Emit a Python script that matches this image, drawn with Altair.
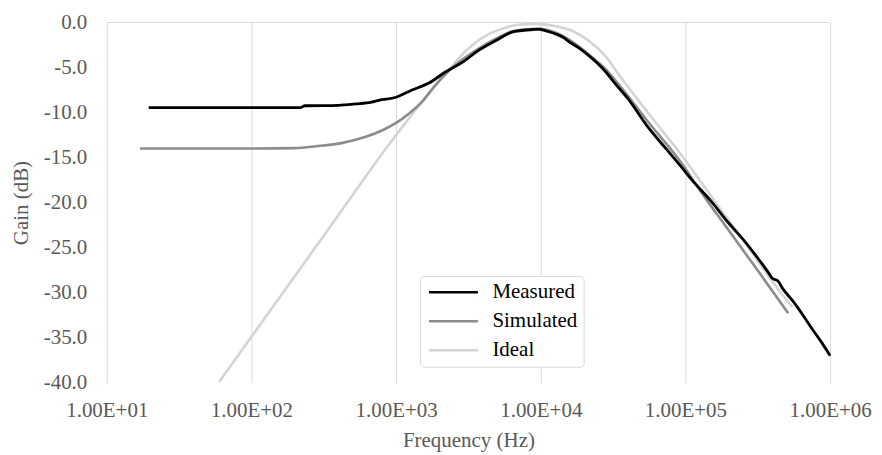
import altair as alt
import pandas as pd

# ---- data (frequency in Hz, gain in dB) ----
meas_f = [19.5, 100, 219, 234, 398, 525, 676, 759, 1000, 1288, 1698, 2188, 2884, 3715,
          4898, 6310, 7413, 8913, 9772, 10715, 12589, 14454, 16218, 18621, 21380,
          24547, 28184, 33113, 39811, 54954, 74131, 97724, 109648, 151356, 199526,
          257040, 331131, 371535, 398107, 436516, 467735, 524807, 575440, 741310,
          870964, 1000000]
meas_db = [-9.45, -9.45, -9.45, -9.25, -9.2, -9.05, -8.85, -8.64, -8.3, -7.5, -6.7,
           -5.5, -4.4, -3.1, -2.0, -1.07, -0.89, -0.78, -0.75, -0.9, -1.25, -1.7, -2.3,
           -2.9, -3.65, -4.5, -5.5, -6.9, -8.4, -11.6, -14.1, -16.4, -17.4, -19.9,
           -22.3, -24.3, -26.6, -27.7, -28.4, -28.7, -29.5, -30.5, -31.3, -33.9,
           -35.5, -37.0]

sim_f = [17, 100, 200, 279, 427, 617, 805, 1000, 1230, 1514, 1778, 2089, 2455, 2884,
         3715, 4898, 6310, 7943, 9333, 11220, 14125, 17783, 22387, 28184, 34674,
         54954, 97724, 123027, 199526, 331131, 512861]
sim_db = [-14.0, -14.0, -13.95, -13.75, -13.37, -12.7, -11.97, -11.15, -10.1, -8.8,
          -7.4, -6.1, -5.0, -4.1, -2.9, -1.8, -1.0, -0.75, -0.7, -0.85, -1.5, -2.5,
          -3.8, -5.2, -6.9, -11.0, -16.0, -18.4, -23.1, -28.0, -32.3]

ideal_f = [60, 100, 238, 327, 1000, 1445, 1905, 2344, 2716, 3311, 4365, 5623, 7000,
           9333, 12000, 16596, 21380, 28184, 34674, 54954, 97724, 158489, 281838,
           436516, 549541]
ideal_db = [-39.9, -34.9, -26.45, -23.35, -12.5, -9.2, -6.8, -5.2, -3.95, -2.6, -1.3,
            -0.6, -0.25, -0.15, -0.35, -0.95, -2.0, -3.8, -5.8, -10.0, -15.1, -19.8,
            -25.3, -29.6, -31.6]

series_names = ["Measured", "Simulated", "Ideal"]
series_colors = ["#000000", "#8c8c8c", "#d4d4d4"]
x_ticks = [10, 100, 1000, 10000, 100000, 1000000]
y_ticks = [0, -5, -10, -15, -20, -25, -30, -35, -40]

rows = []
for name, fs, dbs in [("Measured", meas_f, meas_db),
                      ("Simulated", sim_f, sim_db),
                      ("Ideal", ideal_f, ideal_db)]:
    for f, d in zip(fs, dbs):
        rows.append({"series": name, "freq": f, "gain": d})
df = pd.DataFrame(rows)

FONT = "Liberation Serif"
FS = 21
TXT = "#595959"

xscale = alt.Scale(type="log", domain=[10, 1000000], nice=False)
yscale = alt.Scale(domain=[-40, 0], nice=False, zero=False)
cscale = alt.Scale(domain=series_names, range=series_colors)

x_enc = alt.X("freq:Q", scale=xscale, axis=alt.Axis(
    values=x_ticks, labelExpr="'1.00E+0' + round(log(datum.value) / LN10)",
    grid=True, gridColor="#d9d9d9", gridWidth=1, domain=False, ticks=False,
    labelFlush=False, labelOverlap=False,
    labelFont=FONT, labelFontSize=FS, labelColor=TXT, labelPadding=17,
    title="Frequency (Hz)", titleFont=FONT, titleFontSize=FS, titleColor=TXT,
    titleFontWeight="normal", titlePadding=9))
y_enc = alt.Y("gain:Q", scale=yscale, axis=alt.Axis(
    values=y_ticks, labelExpr="replace(format(datum.value, '.1f'), '\u2212', '-')",
    grid=False, domain=False, ticks=False, labelFlush=False, labelOverlap=False,
    labelFont=FONT, labelFontSize=FS, labelColor=TXT, labelPadding=20,
    title="Gain (dB)", titleFont=FONT, titleFontSize=FS, titleColor=TXT,
    titleFontWeight="normal", titlePadding=12))
c_enc = alt.Color("series:N", scale=cscale, legend=alt.Legend(
    orient="none", legendX=314, legendY=254, title=None,
    symbolType="M0,0H8", symbolSize=150, symbolStrokeWidth=2.5, symbolOffset=-7.5,
    labelFont=FONT, labelFontSize=FS, labelColor="#000000", labelOffset=53,
    rowPadding=7, padding=6, strokeColor="#d9d9d9", fillColor="white",
    cornerRadius=4))

base = alt.Chart(df)
layers = []
for name, sw in [("Ideal", 2.6), ("Simulated", 2.6), ("Measured", 2.8)]:
    layers.append(
        base.transform_filter(alt.datum.series == name)
        .mark_line(strokeWidth=sw, interpolate="monotone")
        .encode(x=x_enc, y=y_enc, color=c_enc)
    )

top_rule = alt.Chart(pd.DataFrame({"gain": [0]})).mark_rule(
    color="#d9d9d9", strokeWidth=1).encode(y=alt.Y("gain:Q", scale=yscale))

chart = alt.layer(top_rule, *layers).properties(
    width=725, height=361,
    autosize=alt.AutoSizeParams(type="none"),
    padding={"left": 99, "top": 14, "right": 44, "bottom": 70},
).configure_view(stroke=None)

chart.save("out.html", embed_options={"renderer": "svg", "actions": False})
